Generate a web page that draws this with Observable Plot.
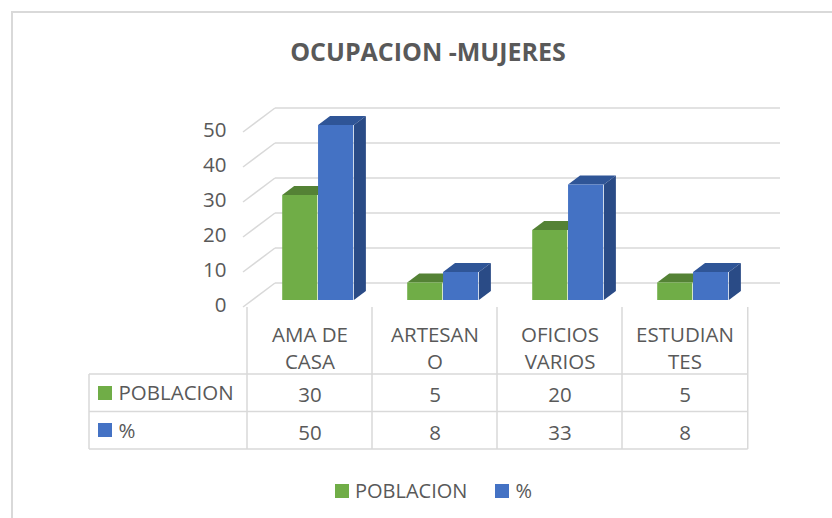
<!DOCTYPE html>
<html><head><meta charset="utf-8">
<script src="https://cdn.jsdelivr.net/npm/d3@7"></script>
<script src="https://cdn.jsdelivr.net/npm/@observablehq/plot@0.6"></script>
<style>
body{margin:0;background:#fff;}
#wrap{position:relative;width:832px;height:518px;overflow:hidden;font-family:"Open Sans",sans-serif;color:#595959;background:#fff;}
#frame{position:absolute;left:11px;top:11px;width:900px;height:600px;border:2px solid #d9d9d9;box-sizing:border-box;}
#title{position:absolute;left:0;width:856px;top:35px;text-align:center;font-weight:bold;font-size:25px;line-height:32px;}
#chart{position:absolute;left:0;top:60px;}
#legend{position:absolute;top:477px;left:335px;display:flex;align-items:center;font-size:20px;line-height:28px;}
#legend .sw{width:14px;height:14px;display:inline-block;margin-right:6px;}
#legend .it{display:flex;align-items:center;margin-right:28px;}
</style></head>
<body><div id="wrap"><div id="frame"></div><div id="title"></div><div id="chart"></div><div id="legend"></div></div>
<script>
const title = "OCUPACION -MUJERES";
const categories = ["AMA DE CASA", "ARTESANO", "OFICIOS VARIOS", "ESTUDIANTES"];
const catLabels = ["AMA DE\nCASA", "ARTESAN\nO", "OFICIOS\nVARIOS", "ESTUDIAN\nTES"];
const seriesNames = ["POBLACION", "%"];
const poblacion = [30, 5, 20, 5];
const pct = [50, 8, 33, 8];
const yTicks = [0, 10, 20, 30, 40, 50];

const colors = {front: ["#70ad47", "#4472c4"], top: ["#548235", "#2f5597"], side: ["#4a7530", "#2a4b86"]};
const W = 832, H = 400, ML = 245, MR = 84, MT = 65, MB = 160;
const BW = (W - ML - MR) / categories.length;
const F = [0.28, 0.565, 0.85];
const DX = 12, DY = -9;
const grid = "#d9d9d9";
const FS = 20.5, TXT = "#595959";

document.getElementById("title").textContent = title;

function walls(index, scales) {
  const y = scales.y;
  const g = d3.create("svg:g").attr("stroke", grid).attr("stroke-width", 1.5).attr("fill", "none");
  const x0 = ML, x1 = W - MR;
  yTicks.forEach(v => {
    const yy = y(v);
    g.append("line").attr("x1", x0 + 30).attr("x2", x1 + 32).attr("y1", yy - 17).attr("y2", yy - 17);
    g.append("line").attr("x1", x0 - 2).attr("y1", yy + 7).attr("x2", x0 + 30).attr("y2", yy - 17);
  });
  return g.node();
}

function table(index, scales) {
  const x = scales.x, y = scales.y;
  const g = d3.create("svg:g").attr("stroke", grid).attr("stroke-width", 1.5).attr("fill", "none");
  const y0 = y(0);
  const xs = categories.map(c => x(c)).concat([x(categories[categories.length - 1]) + BW]);
  xs.forEach(xx => g.append("line").attr("x1", xx).attr("x2", xx).attr("y1", y0 + 7).attr("y2", y0 + 149));
  [74, 111.5, 149].forEach(o => g.append("line").attr("x1", 89).attr("x2", xs[xs.length - 1]).attr("y1", y0 + o).attr("y2", y0 + o));
  g.append("line").attr("x1", 89).attr("x2", 89).attr("y1", y0 + 74).attr("y2", y0 + 149);
  [93, 130].forEach((o, k) => g.append("rect").attr("x", 98).attr("y", y0 + o - 7).attr("width", 14).attr("height", 14).attr("stroke", "none").attr("fill", colors.front[k]));
  return g.node();
}

function faces(vals, k) {
  return function (index, scales) {
    const g = d3.create("svg:g");
    categories.forEach((c, i) => {
      const xl = scales.x(c) + F[k] * BW, xr = scales.x(c) + F[k + 1] * BW;
      const yt = scales.y(vals[i]), yb = scales.y(0);
      g.append("path").attr("d", `M${xl},${yt}L${xr},${yt}L${xr + DX},${yt + DY}L${xl + DX},${yt + DY}Z`).attr("fill", colors.top[k]);
      g.append("path").attr("d", `M${xr},${yt}L${xr + DX},${yt + DY}L${xr + DX},${yb + DY}L${xr},${yb}Z`).attr("fill", colors.side[k]);
    });
    return g.node();
  };
}

const front = (vals, k) => Plot.barY(categories, {
  x: d => d, y: (d, i) => vals[i], fill: colors.front[k],
  insetLeft: F[k] * BW, insetRight: (1 - F[k + 1]) * BW
});

const cell = (texts, dy) => Plot.text(categories, {
  x: d => d, text: (d, i) => texts[i], frameAnchor: "bottom", lineAnchor: "middle",
  dy, lineHeight: 1.32, fill: TXT, fontSize: FS
});

const chart = Plot.plot({
  width: W, height: H, marginLeft: ML, marginRight: MR, marginTop: MT, marginBottom: MB,
  style: {fontFamily: "'Open Sans', sans-serif", fontSize: FS + "px", color: TXT, background: "transparent"},
  x: {domain: categories, padding: 0, axis: null},
  y: {domain: [0, 50], axis: null},
  marks: [
    walls,
    faces(poblacion, 0), front(poblacion, 0),
    faces(pct, 1), front(pct, 1),
    Plot.text(yTicks, {y: d => d, text: d => String(d), frameAnchor: "left", textAnchor: "end", lineAnchor: "middle", dx: -19, dy: 5, fill: TXT, fontSize: FS}),
    table,
    cell(catLabels, 46.5),
    cell(poblacion.map(String), 93),
    cell(pct.map(String), 130.5),
    Plot.text(seriesNames, {text: d => d, frameAnchor: "bottom-left", textAnchor: "start", lineAnchor: "middle", dx: 118 - ML, dy: (d, i) => 0, fill: TXT, fontSize: FS, filter: (d, i) => i === 0, dy: 93}),
    Plot.text(seriesNames, {text: d => d, frameAnchor: "bottom-left", textAnchor: "start", lineAnchor: "middle", dx: 118 - ML, fill: TXT, fontSize: FS, filter: (d, i) => i === 1, dy: 130.5})
  ]
});
document.getElementById("chart").appendChild(chart);

const leg = document.getElementById("legend");
seriesNames.forEach((s, k) => {
  const it = document.createElement("span"); it.className = "it";
  const sw = document.createElement("span"); sw.className = "sw"; sw.style.background = colors.front[k];
  it.appendChild(sw); it.appendChild(document.createTextNode(s)); leg.appendChild(it);
});
</script></body></html>
